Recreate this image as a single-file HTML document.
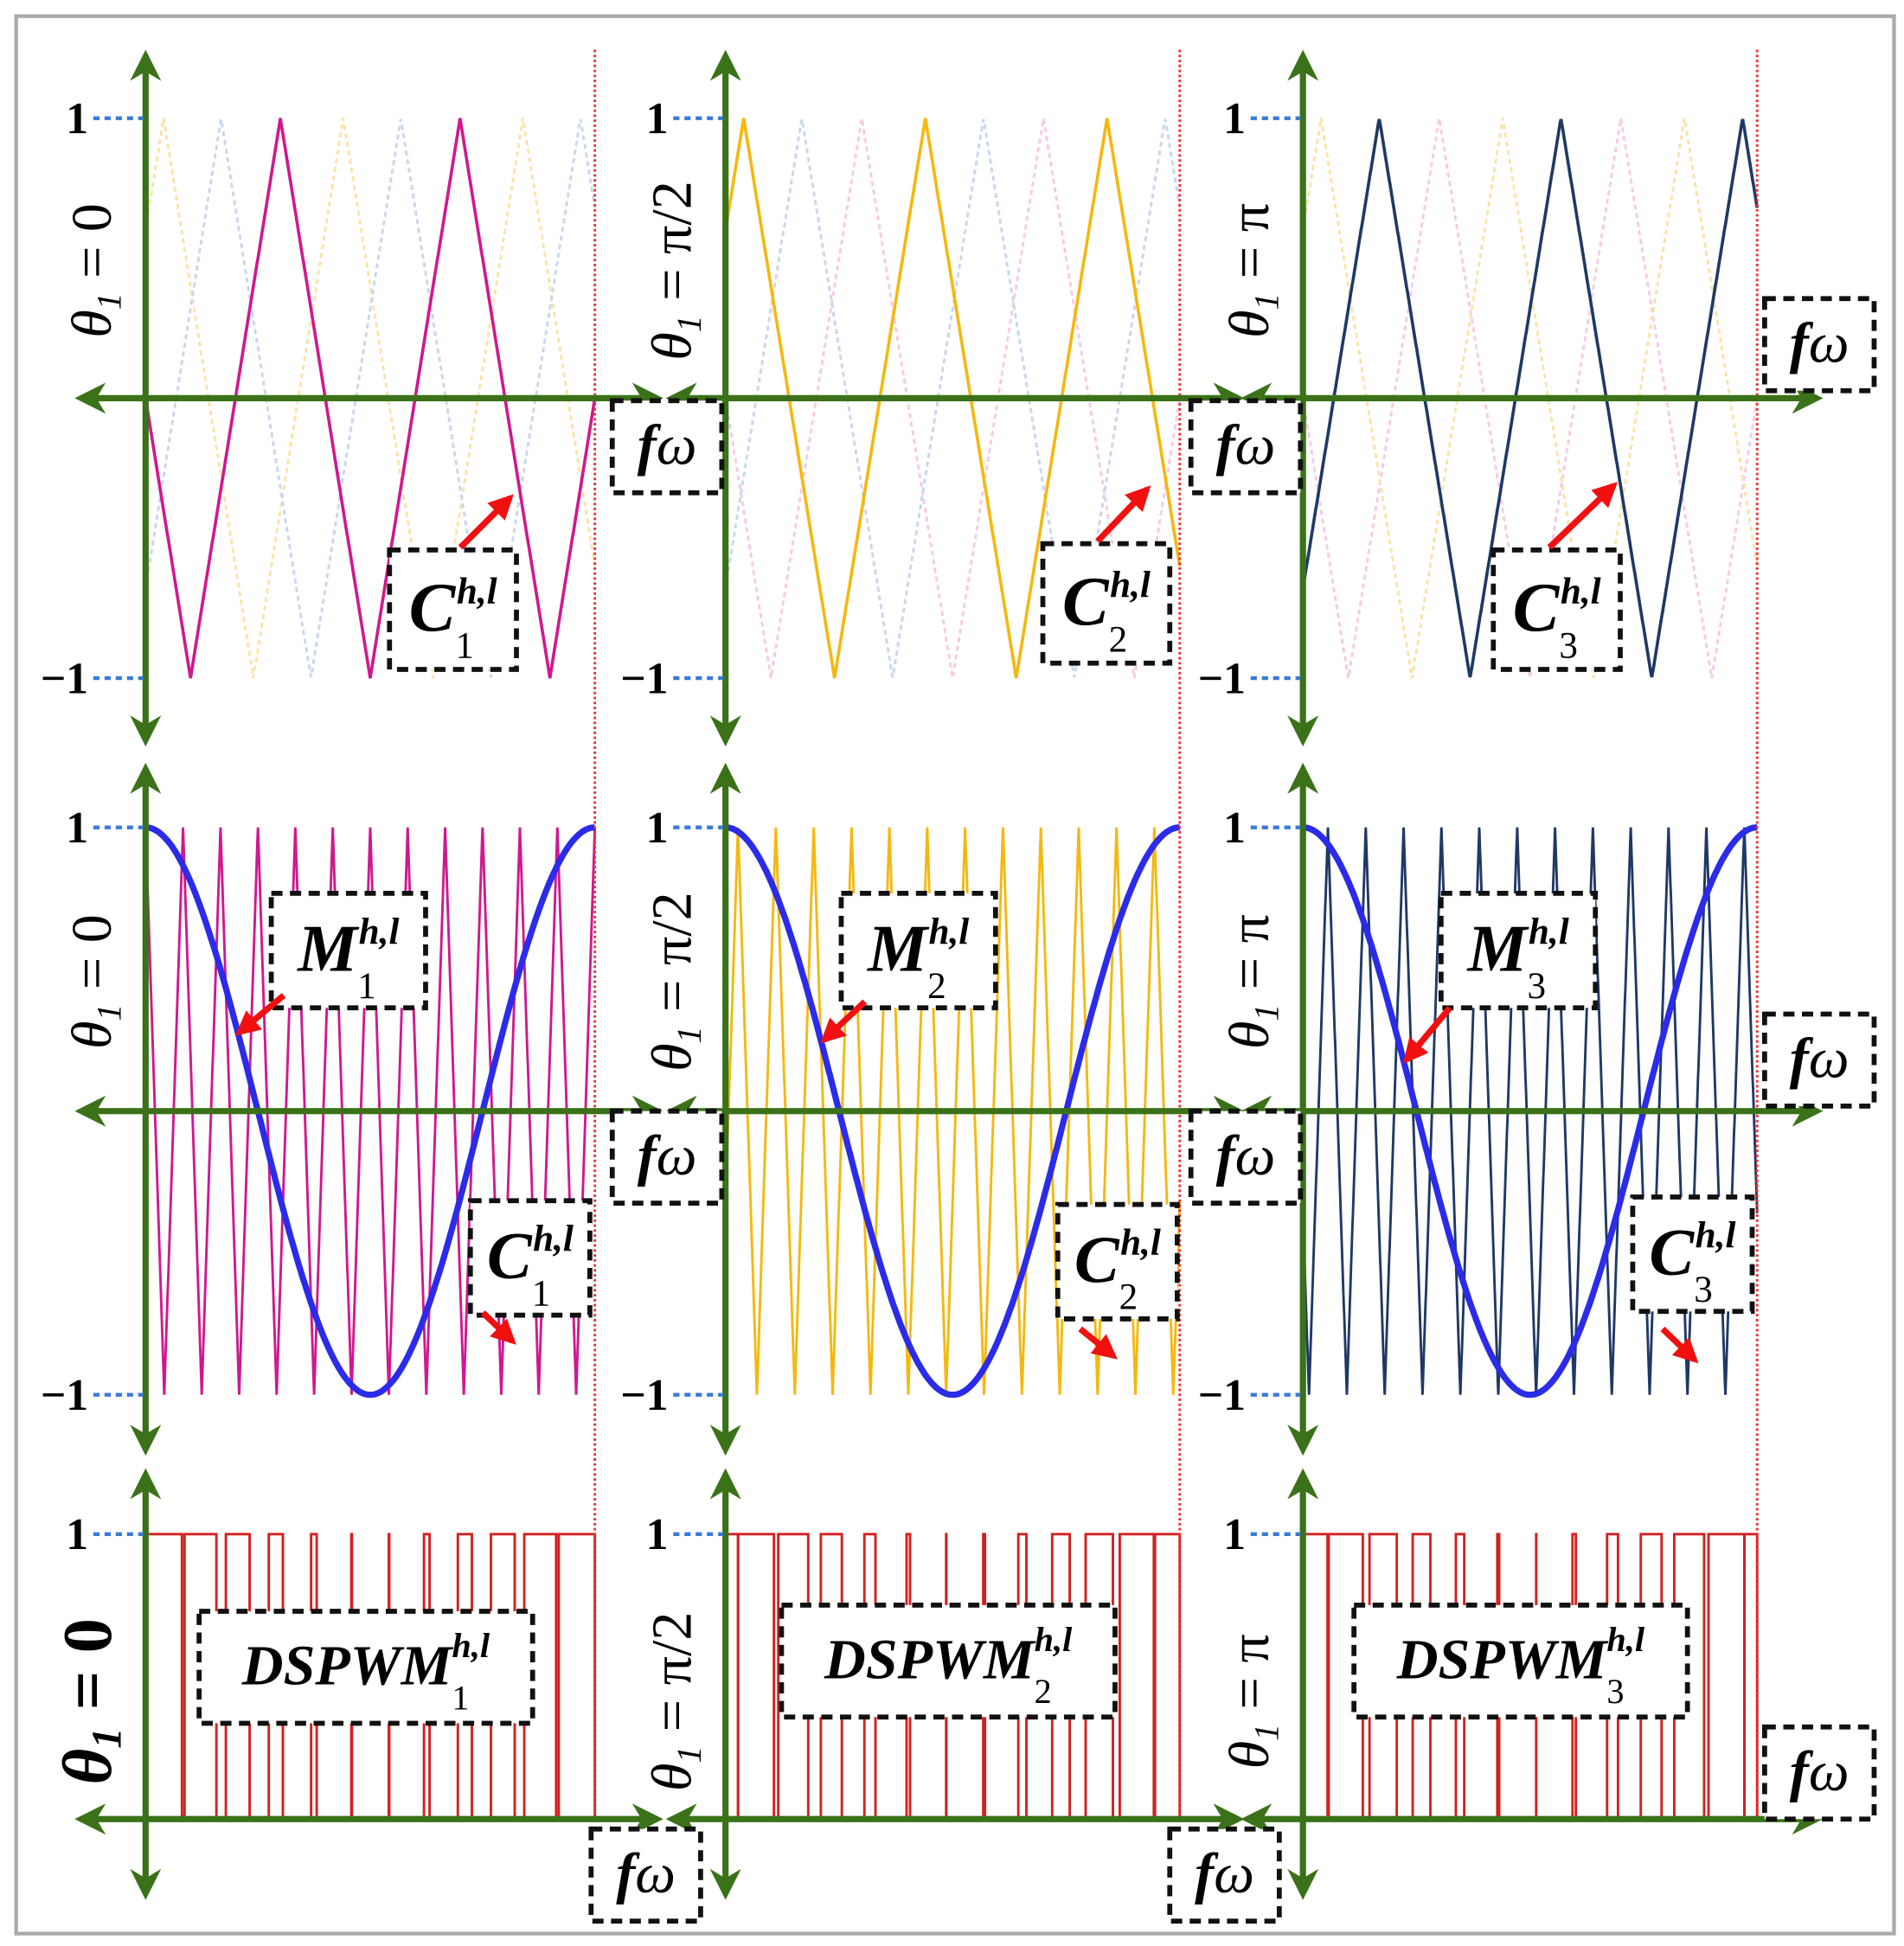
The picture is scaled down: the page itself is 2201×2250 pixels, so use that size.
<!DOCTYPE html>
<html><head><meta charset="utf-8"><style>
html,body{margin:0;padding:0;background:#fff}
svg{display:block}
text{font-family:"Liberation Serif",serif}
</style></head><body>
<svg id="chart" width="2201" height="2250" viewBox="0 0 1530 1564" preserveAspectRatio="none" xmlns="http://www.w3.org/2000/svg">
<defs>
<marker id="ga" viewBox="0 0 10 10" refX="8" refY="5" markerWidth="5" markerHeight="5" orient="auto-start-reverse"><path d="M0,0 L10,5 L0,10 L3,5 z" fill="#3b7219"/></marker>
<marker id="ra" viewBox="0 0 10 10" refX="8" refY="5" markerWidth="4" markerHeight="4" orient="auto"><path d="M0,0 L10,5 L0,10 z" fill="#f01010"/></marker>
</defs>
<rect x="13" y="13" width="1509" height="1541" fill="#fff" stroke="#aaa" stroke-width="3"/>
<g id="marks"></g>
<g id="axes"></g>
<g id="labels"></g>
</svg>
<script>
// ---- data ----
const columns = ["col1","col2","col3"];
const thetaLabels = ["= 0","= π/2","= π"];
const subscripts = ["1","2","3"];
const carrierColors = ["#d0188f","#f5b810","#1f3866"];
const carrierDash = ["#f6c9e6","#fbe2a8","#c8d6ee"];
const row1PeakPhase = [0.75, 0.10, 0.42];   // carrier peak phase (fraction of period)
const row1Cycles = 2.5;
const row2PeakPhase = [0.0, 0.33, 0.66];
const row2Cycles = 12;
const modCycles = 1;
const modAmplitude = 1;
const yTicks = [1, -1];

// ---- layout ----
const NS = "http://www.w3.org/2000/svg";
const colX0 = [117, 583, 1047], colX1 = [478, 948, 1412];
const rows = [{top:95, bot:546, zero:320}, {top:665, bot:1118, zero:893}, {top:1233, bot:1462, zero:1462}];
const marks = document.getElementById('marks'), axesG = document.getElementById('axes'), labelsG = document.getElementById('labels');
function el(tag, attrs, parent){ const e=document.createElementNS(NS,tag); for(const k in attrs) e.setAttribute(k,attrs[k]); parent.appendChild(e); return e; }
function xs(c,u){ return colX0[c] + u*(colX1[c]-colX0[c]); }
function ys(r,v){ const R=rows[r]; return r<2 ? R.zero - v*(R.zero-R.top) : R.bot - v*(R.bot-R.top); }
function tri(u, phase){ let d=((u-phase)%1+1)%1; return 1-4*Math.min(d,1-d); }
function modv(u){ return modAmplitude*Math.cos(2*Math.PI*modCycles*u); }

columns.forEach((cn,c)=>{
  // row1 dashed other carriers
  row1PeakPhase.forEach((ph,k)=>{
    if(k===c) return;
    let pts=[]; for(let i=0;i<=600;i++){ const u=i/600; pts.push(xs(c,u).toFixed(1)+','+ys(0,tri(u*row1Cycles,ph)).toFixed(1)); }
    const p=el('polyline',{points:pts.join(' '),fill:'none',stroke:carrierDash[k],'stroke-width':2,'stroke-dasharray':'4 3'},marks);
    
    
  });
  let pts=[]; for(let i=0;i<=600;i++){ const u=i/600; pts.push(xs(c,u).toFixed(1)+','+ys(0,tri(u*row1Cycles,row1PeakPhase[c])).toFixed(1)); }
  let p=el('polyline',{points:pts.join(' '),fill:'none',stroke:carrierColors[c],'stroke-width':2.5},marks);
  
  
  // row2 carrier
  pts=[]; for(let i=0;i<=1200;i++){ const u=i/1200; pts.push(xs(c,u).toFixed(1)+','+ys(1,tri(u*row2Cycles,row2PeakPhase[c])).toFixed(1)); }
  p=el('polyline',{points:pts.join(' '),fill:'none',stroke:carrierColors[c],'stroke-width':2},marks);
  
  
  pts=[]; for(let i=0;i<=300;i++){ const u=i/300; pts.push(xs(c,u).toFixed(1)+','+ys(1,modv(u)).toFixed(1)); }
  p=el('polyline',{points:pts.join(' '),fill:'none',stroke:'#2b2bea','stroke-width':5},marks);
  
  
  // row3 PWM
  let d='', prev=null;
  for(let i=0;i<=2400;i++){ const u=i/2400; const s = modv(u) > tri(u*row2Cycles,row2PeakPhase[c]) ? 1:0;
    const x=xs(c,u).toFixed(1);
    if(prev===null){ d+='M'+x+','+ys(2,0)+' L'+x+','+ys(2,s); }
    else if(s!==prev){ d+=' L'+x+','+ys(2,prev)+' L'+x+','+ys(2,s); }
    prev=s; }
  d+=' L'+xs(c,1).toFixed(1)+','+ys(2,prev)+' L'+xs(c,1).toFixed(1)+','+ys(2,0);
  p=el('path',{d:d,fill:'none',stroke:'#d42020','stroke-width':2},marks);
  
  
  // red dotted boundary
  p=el('line',{x1:colX1[c],y1:40,x2:colX1[c],y2:1458,stroke:'#ee3030','stroke-width':2,'stroke-dasharray':'2 2'},axesG);
  
  
});

// axes
const xEnds = [[65,528],[540,995],[1002,1460]];
const yRange = [[45,595],[618,1165],[1185,1522]];
columns.forEach((cn,c)=>{
  rows.forEach((R,r)=>{
    let a=el('line',{x1:xEnds[c][0],y1:R.zero,x2:xEnds[c][1],y2:R.zero,stroke:'#3b7219','stroke-width':5,'marker-start':'url(#ga)','marker-end':'url(#ga)'},axesG);
    
    
    a=el('line',{x1:colX0[c],y1:yRange[r][0],x2:colX0[c],y2:yRange[r][1],stroke:'#3b7219','stroke-width':5,'marker-start':'url(#ga)','marker-end':'url(#ga)'},axesG);
    
    
    const ticks = r<2 ? yTicks : [1];
    ticks.forEach(v=>{
      const y=ys(r,v);
      const t=el('line',{x1:colX0[c]-42,y1:y,x2:colX0[c]-2,y2:y,stroke:'#3a7ad8','stroke-width':3,'stroke-dasharray':'5 4'},axesG);
      
      
      const tx=el('text',{x:colX0[c]-46,y:y+12,'text-anchor':'end','font-size':36,'font-weight':'bold'},labelsG);
      tx.textContent = v===1?'1':'−1';
      
      
    });
    // theta label
    const cy = r<2 ? (R.top+R.zero)/2+10 : (R.top+R.bot)/2+20;
    const g=el('text',{transform:'translate('+(colX0[c]-28)+','+cy+') rotate(-90)','text-anchor':'middle','font-size':r===2&&c===0?56:46,'font-style':'italic','font-weight':r===2&&c===0?'bold':'normal'},labelsG);
    
    
    g.innerHTML='θ<tspan font-size="60%" dy="8">1</tspan><tspan dy="-8" font-style="normal"> '+thetaLabels[c]+'</tspan>';
  });
});

function box(x,y,w,h,name,html,fs){
  const r=el('rect',{x:x,y:y,width:w,height:h,fill:'#fff',stroke:'#111','stroke-width':4,'stroke-dasharray':'9 6'},labelsG);
  
  
  const t=el('text',{x:x+w/2,y:y+h/2+fs*0.3,'text-anchor':'middle','font-size':fs,'font-style':'italic','font-weight':'bold'},labelsG);
  
  
  t.innerHTML=html;
}
function arrow(x1,y1,x2,y2,name){
  const a=el('line',{x1:x1,y1:y1,x2:x2,y2:y2,stroke:'#f01010','stroke-width':5,'marker-end':'url(#ra)'},labelsG);
  
  
}
const fw='f<tspan font-weight="normal">ω</tspan>';
[[492,322],[957,322],[1418,240],[492,893],[957,893],[1418,815],[475,1470],[940,1470],[1418,1388]].forEach((p,i)=>box(p[0],p[1],88,74,'f-omega-label-'+(i+1),fw,46));
const sup=(s)=>'<tspan font-size="32" dy="-20">h,l</tspan>';
const cl=(s)=>'C<tspan font-size="30" dy="22" font-weight="normal" font-style="normal">'+s+'</tspan><tspan font-size="30" dy="-44" dx="-14">h,l</tspan>';
const ml=(s)=>'M<tspan font-size="30" dy="22" font-weight="normal" font-style="normal">'+s+'</tspan><tspan font-size="30" dy="-44" dx="-14">h,l</tspan>';
const row1C=[[313,442],[838,437],[1200,442]], row2M=[[218,718],[676,718],[1158,718]], row2C=[[378,965],[850,968],[1312,962]], row3D=[[160,1295],[628,1290],[1088,1290]];
const arr1=[[370,440,410,400],[882,435,922,393],[1245,440,1297,390]];
const arrM=[[228,800,192,830],[695,805,662,836],[1165,810,1130,852]];
const arrC=[[388,1055,412,1078],[868,1068,895,1090],[1336,1068,1362,1093]];
columns.forEach((cn,c)=>{
  box(row1C[c][0],row1C[c][1],102,96,'row1-'+cn+'-carrier-label',cl(subscripts[c]),56);
  arrow(...arr1[c],'row1-'+cn+'-carrier-arrow');
  box(row2M[c][0],row2M[c][1],124,92,'row2-'+cn+'-modulating-label',ml(subscripts[c]),54);
  arrow(...arrM[c],'row2-'+cn+'-modulating-arrow');
  box(row2C[c][0],row2C[c][1],96,92,'row2-'+cn+'-carrier-label',cl(subscripts[c]),54);
  arrow(...arrC[c],'row2-'+cn+'-carrier-arrow');
  box(row3D[c][0],row3D[c][1],268,90,'row3-'+cn+'-dspwm-label','DSPWM<tspan font-size="28" dy="20" font-weight="normal" font-style="normal">'+subscripts[c]+'</tspan><tspan font-size="28" dy="-42" dx="-14">h,l</tspan>',46);
});
</script>
</body></html>
